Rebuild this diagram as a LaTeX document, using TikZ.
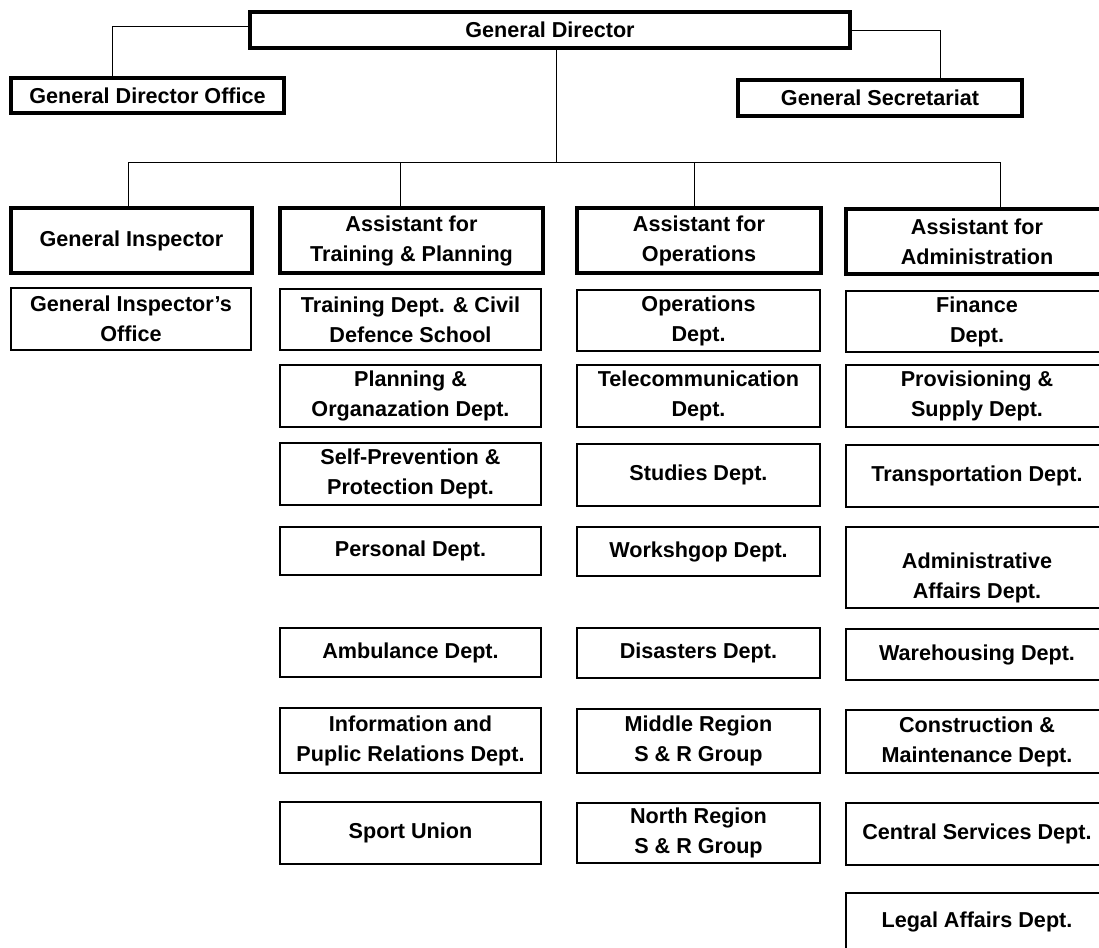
\documentclass[tikz,border=0pt]{standalone}
\usepackage{fontspec}
\setmainfont{Liberation Sans}
\usepackage{tikz}
\usetikzlibrary{positioning}

\begin{document}
\begin{tikzpicture}[
			x=0.5pt, y=-0.5pt,
			font=\bfseries\fontsize{10.8}{15}\selectfont,
			box/.style={draw, line width=0.8pt, inner sep=1pt, align=center},
			headbox/.style={box, line width=1.7pt},
			colone/.style={box, minimum width=120pt},
			coltwo/.style={box, minimum width=130.5pt},
			colthree/.style={box, minimum width=121.5pt},
			colfour/.style={box, minimum width=131pt},
			link/.style={line width=0.5pt}
			]
			
			\useasboundingbox (0,0) rectangle (1099,948);
			\clip (0,0) rectangle (1099,948);
			
			\node[headbox, minimum width=300pt, minimum height=18pt] (director) at (550,30) {General Director};
			\node[headbox, minimum width=136.5pt, minimum height=17.5pt] (dirOffice) at (147.5,95.5) {General Director Office};
			\node[headbox, minimum width=142pt, minimum height=18pt] (secretariat) at (880,98) {General Secretariat};
			
			\node[headbox, minimum width=120.5pt, minimum height=32.5pt] (inspector) at (131.5,240.5) {General Inspector};
			\node[headbox, minimum width=131.5pt, minimum height=32.5pt] (asstTraining) at (411.5,240.5) {Assistant for\\Training \& Planning};
			\node[headbox, minimum width=122pt, minimum height=32.5pt] (asstOperations) at (699,240.5) {Assistant for\\Operations};
			\node[headbox, minimum width=131pt, minimum height=32.5pt] (asstAdmin) at (977,241.5) {Assistant for\\Administration};
			
			\node[colone, minimum height=31pt] (inspOffice) at (131,319) {General Inspector's\\Office};
			
			\node[coltwo, minimum height=30.5pt] (training) at (410.5,319.5) {Training Dept. \& Civil\\Defence School};
			\node[coltwo, minimum height=31pt] (planning) at (410.5,396) {Planning \&\\Organazation Dept.};
			\node[coltwo, minimum height=31pt] (selfPrev) at (410.5,474) {Self-Prevention \&\\Protection Dept.};
			\node[coltwo, minimum height=24pt] (personal) at (410.5,551) {Personal Dept.};
			\node[coltwo, minimum height=24.5pt] (ambulance) at (410.5,652.5) {Ambulance Dept.};
			\node[coltwo, minimum height=32.5pt] (information) at (410.5,740.5) {Information and\\Puplic Relations Dept.};
			\node[coltwo, minimum height=31pt] (sport) at (410.5,833) {Sport Union};
			
			\node[colthree, minimum height=30.5pt] (operations) at (698.5,320.5) {Operations\\Dept.};
			\node[colthree, minimum height=31pt] (telecom) at (698.5,396) {Telecommunication\\Dept.};
			\node[colthree, minimum height=31pt] (studies) at (698.5,475) {Studies Dept.};
			\node[colthree, minimum height=24.5pt] (workshop) at (698.5,551.5) {Workshgop Dept.};
			\node[colthree, minimum height=25pt] (disasters) at (698.5,653) {Disasters Dept.};
			\node[colthree, minimum height=32pt] (middle) at (698.5,741) {Middle Region\\S \& R Group};
			\node[colthree, minimum height=30pt] (north) at (698.5,833) {North Region\\S \& R Group};
			
			\node[colfour, minimum height=30.5pt] (finance) at (977,321.5) {Finance\\Dept.};
			\node[colfour, minimum height=31pt] (supply) at (977,396) {Provisioning \&\\Supply Dept.};
			\node[colfour, minimum height=31pt] (transport) at (977,476) {Transportation Dept.};
			\node[colfour, minimum height=40.5pt] (adminAffairs) at (977,567.5) {\rule{0pt}{18pt}Administrative\\Affairs Dept.};
			\node[colfour, minimum height=25.5pt] (warehouse) at (977,654.5) {Warehousing Dept.};
			\node[colfour, minimum height=31.5pt] (construction) at (977,741.5) {Construction \&\\Maintenance Dept.};
			\node[colfour, minimum height=31pt] (central) at (977,834) {Central Services Dept.};
			\node[colfour, minimum height=28.5pt] (legal) at (977,921.5) {Legal Affairs Dept.};
			
			\coordinate (bus) at (556,162);
			
			\draw[link] ([yshift=2pt]director.west) -| ([xshift=-17.75pt]dirOffice.north);
			\draw[link] (director.east) -| ([xshift=30pt]secretariat.north);
			\draw[link] ([xshift=3pt]director.south) -- (bus);
			
			\draw[link] ([xshift=-1.75pt]inspector.north) |- (bus);
			\draw[link] ([xshift=-5.75pt]asstTraining.north) |- (bus);
			\draw[link] ([xshift=-2.5pt]asstOperations.north) |- (bus);
			\draw[link] ([xshift=11.5pt]asstAdmin.north) |- (bus);
			
		\end{tikzpicture}
\end{document}
